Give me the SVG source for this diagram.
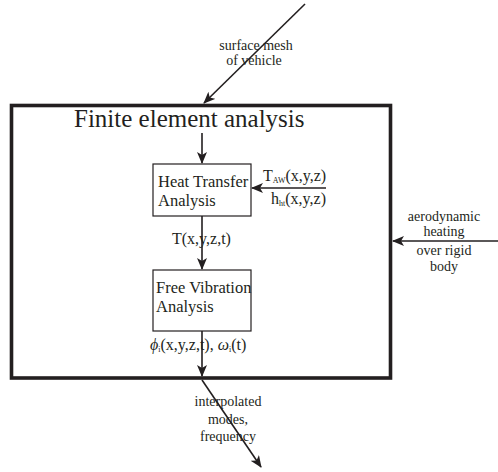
<svg xmlns="http://www.w3.org/2000/svg" width="498" height="472" viewBox="0 0 498 472">
<style>
text{font-family:"Liberation Serif","Times New Roman",serif;fill:#231f20}
.lbl{font-size:14px;text-anchor:middle}
.box{fill:#fff;stroke:#231f20;stroke-width:1.2}
.ln{stroke:#231f20;stroke-width:1.6;fill:none;marker-end:url(#ah)}
</style>
<defs>
<marker id="ah" markerWidth="12" markerHeight="10" refX="11" refY="5" orient="auto" markerUnits="userSpaceOnUse">
<path d="M0,0 L12,5 L0,10 L3,5 Z" fill="#231f20"/>
</marker>
</defs>
<g id="fea">
<rect x="11.5" y="105.5" width="379" height="272.5" fill="#fff" stroke="#231f20" stroke-width="3.6"/>
<text x="74" y="127" style="font-size:25px">Finite element analysis</text>
</g>
<g id="connectors">
<line class="ln" x1="305" y1="4" x2="204" y2="103"/>
<line class="ln" x1="202" y1="133" x2="202" y2="163"/>
<line class="ln" x1="326" y1="188" x2="252" y2="188"/>
<line class="ln" x1="202" y1="216" x2="202" y2="269"/>
<line class="ln" x1="498" y1="241" x2="393" y2="241"/>
<line class="ln" x1="202" y1="331" x2="202" y2="376"/>
<line class="ln" x1="202" y1="380" x2="261" y2="467"/>
</g>
<g id="heat">
<rect class="box" x="153" y="164" width="98" height="52"/>
<text x="158" y="187" style="font-size:16.5px">Heat Transfer</text>
<text x="158" y="206" style="font-size:16.5px">Analysis</text>
</g>
<g id="vib">
<rect class="box" x="153" y="270" width="98" height="61"/>
<text x="156" y="293" style="font-size:16.5px">Free Vibration</text>
<text x="156" y="312" style="font-size:16.5px">Analysis</text>
</g>
<g id="labels">
<text class="lbl" x="256" y="50">surface mesh</text>
<text class="lbl" x="254" y="65">of vehicle</text>
<text x="263" y="181" style="font-size:16px">T<tspan style="font-size:8px" dy="2">AW</tspan><tspan dy="-2">(x,y,z)</tspan></text>
<text x="271" y="204" style="font-size:16px">h<tspan style="font-size:8px" dy="2">ht</tspan><tspan dy="-2">(x,y,z)</tspan></text>
<text x="172" y="244" style="font-size:16px">T(x,y,z,t)</text>
<text x="150" y="350" style="font-size:16px"><tspan style="font-style:italic">ϕ</tspan><tspan style="font-size:8px" dy="2">i</tspan><tspan dy="-2">(x,y,z,t), </tspan><tspan style="font-style:italic">ω</tspan><tspan style="font-size:8px" dy="2">i</tspan><tspan dy="-2">(t)</tspan></text>
<text class="lbl" x="444" y="221">aerodynamic</text>
<text class="lbl" x="444" y="236">heating</text>
<text class="lbl" x="444" y="255">over rigid</text>
<text class="lbl" x="444" y="271">body</text>
<text class="lbl" x="228" y="406">interpolated</text>
<text class="lbl" x="228" y="424">modes,</text>
<text class="lbl" x="228" y="441">frequency</text>
</g>
</svg>
